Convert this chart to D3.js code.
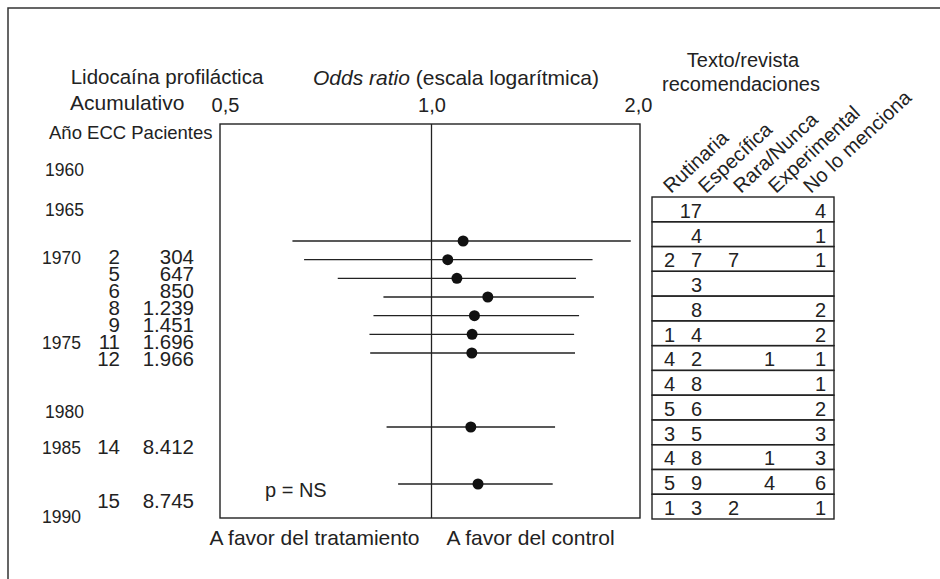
<html>
<head>
  <meta charset="utf-8">
  <style type="text/css">
    body { margin: 0; background: #fff; }
    svg text { font-family: "Liberation Sans", Arial, sans-serif; fill: #222; }
    .axis path { display: none; }
  </style>
</head>
<body>
  <div id="viz">
    <svg width="940" height="579"></svg>
  </div>
  <script src="https://cdnjs.cloudflare.com/ajax/libs/d3/7.8.5/d3.min.js"></script>
  <script>
  // year labels down the left side
  const years = [1960, 1965, 1970, 1975, 1980, 1985, 1990];

  // cumulative meta-analysis: one row per step
  const stepYear = [1970, 1971, 1972, 1973, 1974, 1975, 1976, 1985, 1989];
  const ecc = [2, 5, 6, 8, 9, 11, 12, 14, 15];
  const patients = [304, 647, 850, 1239, 1451, 1696, 1966, 8412, 8745];
  const orPoint = [1.112, 1.056, 1.089, 1.208, 1.155, 1.146, 1.145, 1.141, 1.169];
  const orLow = [0.627, 0.652, 0.730, 0.851, 0.823, 0.812, 0.814, 0.860, 0.894];
  const orHigh = [1.952, 1.717, 1.624, 1.725, 1.641, 1.614, 1.619, 1.514, 1.502];

  const orTicks = [0.5, 1, 2];

  // textbook / review recommendations
  const recCols = ["Rutinaria", "Específica", "Rara/Nunca", "Experimental", "No lo menciona"];
  const recRutinaria = [null, null, 2, null, null, 1, 4, 4, 5, 3, 4, 5, 1];
  const recEspecifica = [17, 4, 7, 3, 8, 4, 2, 8, 6, 5, 8, 9, 3];
  const recRara = [null, null, 7, null, null, null, null, null, null, null, null, null, 2];
  const recExperimental = [null, null, null, null, null, null, 1, null, null, null, 1, 4, null];
  const recNoMenciona = [4, 1, 1, null, 2, 2, 1, 1, 2, 3, 3, 6, 1];

  const es = d3.formatLocale({decimal: ",", thousands: ".", grouping: [3], currency: ["", " €"]});
  const fmtOr = es.format(".1f");
  const fmtN = es.format(",d");

  const svg = d3.select("svg");
  const ink = "#222";

  // outer frame (left and top)
  svg.append("path")
    .attr("d", "M8,579V8H940")
    .attr("fill", "none")
    .attr("stroke", "#333")
    .attr("stroke-width", 1.5);

  // ---- forest plot ----
  const x = d3.scaleLog().domain([0.5, 2]).range([225, 638]);
  const plotTop = 124, plotBottom = 518;
  const y = d3.scaleLinear()
    .domain([1970, 1976, 1985, 1989])
    .range([241, 353, 427, 484]);

  svg.append("rect")
    .attr("x", 220).attr("y", plotTop)
    .attr("width", 640 - 220).attr("height", plotBottom - plotTop)
    .attr("fill", "none").attr("stroke", ink).attr("stroke-width", 1.4);

  svg.append("line")
    .attr("x1", x(1)).attr("x2", x(1))
    .attr("y1", plotTop).attr("y2", plotBottom)
    .attr("stroke", ink).attr("stroke-width", 1.3);

  const axis = svg.append("g")
    .attr("class", "axis")
    .attr("transform", "translate(0," + plotTop + ")")
    .call(d3.axisTop(x).tickValues(orTicks).tickSize(0).tickPadding(12).tickFormat(fmtOr));
  axis.attr("font-size", null).attr("font-family", null);
  axis.selectAll("text").attr("font-size", 20).attr("fill", ink);

  const rows = stepYear.map((yr, i) => ({yr, lo: orLow[i], hi: orHigh[i], or: orPoint[i]}));

  svg.append("g").selectAll("line")
    .data(rows)
    .join("line")
      .attr("x1", d => x(d.lo)).attr("x2", d => x(d.hi))
      .attr("y1", d => y(d.yr)).attr("y2", d => y(d.yr))
      .attr("stroke", ink).attr("stroke-width", 1.3);

  svg.append("g").selectAll("circle")
    .data(rows)
    .join("circle")
      .attr("cx", d => x(d.or))
      .attr("cy", d => y(d.yr))
      .attr("r", 5.5)
      .attr("fill", "#111");

  svg.append("text").attr("x", 265).attr("y", 497).attr("font-size", 20).text("p = NS");

  svg.append("text").attr("x", x(1) - 12).attr("y", 545).attr("font-size", 21)
    .attr("text-anchor", "end").text("A favor del tratamiento");
  svg.append("text").attr("x", x(1) + 15).attr("y", 545).attr("font-size", 21)
    .text("A favor del control");

  // titles
  svg.append("text").attr("x", 167).attr("y", 84).attr("font-size", 20.5)
    .attr("text-anchor", "middle").text("Lidocaína profiláctica");
  const orTitle = svg.append("text").attr("x", 313).attr("y", 85).attr("font-size", 21);
  orTitle.append("tspan").attr("font-style", "italic").text("Odds ratio");
  orTitle.append("tspan").text(" (escala logarítmica)");
  svg.append("text").attr("x", 70).attr("y", 110).attr("font-size", 21).text("Acumulativo");
  svg.append("text").attr("x", 49).attr("y", 139).attr("font-size", 18.5).text("Año ECC Pacientes");

  // ---- left columns ----
  const ty = d3.scaleLinear()
    .domain([1960, 1965, 1970, 1976, 1980, 1985, 1989, 1990])
    .range([176, 216, 264, 366, 418, 454, 508, 523]);

  svg.append("g").selectAll("text")
    .data(years)
    .join("text")
      .attr("x", d => (d === 1960 || d === 1965 || d === 1980) ? 45 : 42)
      .attr("y", d => ty(d))
      .attr("font-size", 17.5)
      .text(d => d);

  svg.append("g").selectAll("text")
    .data(rows)
    .join("text")
      .attr("x", 120)
      .attr("y", d => ty(d.yr))
      .attr("font-size", 20.5)
      .attr("text-anchor", "end")
      .text((d, i) => ecc[i]);

  svg.append("g").selectAll("text")
    .data(rows)
    .join("text")
      .attr("x", 194)
      .attr("y", d => ty(d.yr))
      .attr("font-size", 20.5)
      .attr("text-anchor", "end")
      .text((d, i) => fmtN(patients[i]));

  // ---- recommendations table ----
  const recData = [recRutinaria, recEspecifica, recRara, recExperimental, recNoMenciona];
  const tLeft = 652, tRight = 834;
  const rowBand = d3.scaleBand()
    .domain(d3.range(recEspecifica.length))
    .range([197, 519]);
  const colX = d3.scaleLinear()
    .domain([0, 1, 2, 3, 4])
    .range([675, 702, 739, 775, 826]);
  const headX = d3.scaleLinear().domain([0, 4]).range([671, 811]);

  svg.append("text").attr("x", 743).attr("y", 67).attr("font-size", 20)
    .attr("text-anchor", "middle").text("Texto/revista");
  svg.append("text").attr("x", 741).attr("y", 91).attr("font-size", 20)
    .attr("text-anchor", "middle").text("recomendaciones");

  svg.append("g").selectAll("text")
    .data(recCols)
    .join("text")
      .attr("transform", (d, i) => "translate(" + headX(i) + ",194) rotate(-43)")
      .attr("font-size", 20)
      .text(d => d);

  svg.append("g").selectAll("rect")
    .data(rowBand.domain())
    .join("rect")
      .attr("x", tLeft)
      .attr("y", d => rowBand(d))
      .attr("width", tRight - tLeft)
      .attr("height", rowBand.bandwidth())
      .attr("fill", "none")
      .attr("stroke", ink)
      .attr("stroke-width", 1.4);

  const cells = [];
  recData.forEach((col, c) => col.forEach((v, r) => { if (v != null) cells.push({c, r, v}); }));

  svg.append("g").selectAll("text")
    .data(cells)
    .join("text")
      .attr("x", d => colX(d.c))
      .attr("y", d => rowBand(d.r) + rowBand.bandwidth() - 4)
      .attr("font-size", 20)
      .attr("text-anchor", "end")
      .text(d => d.v);
  </script>
</body>
</html>
